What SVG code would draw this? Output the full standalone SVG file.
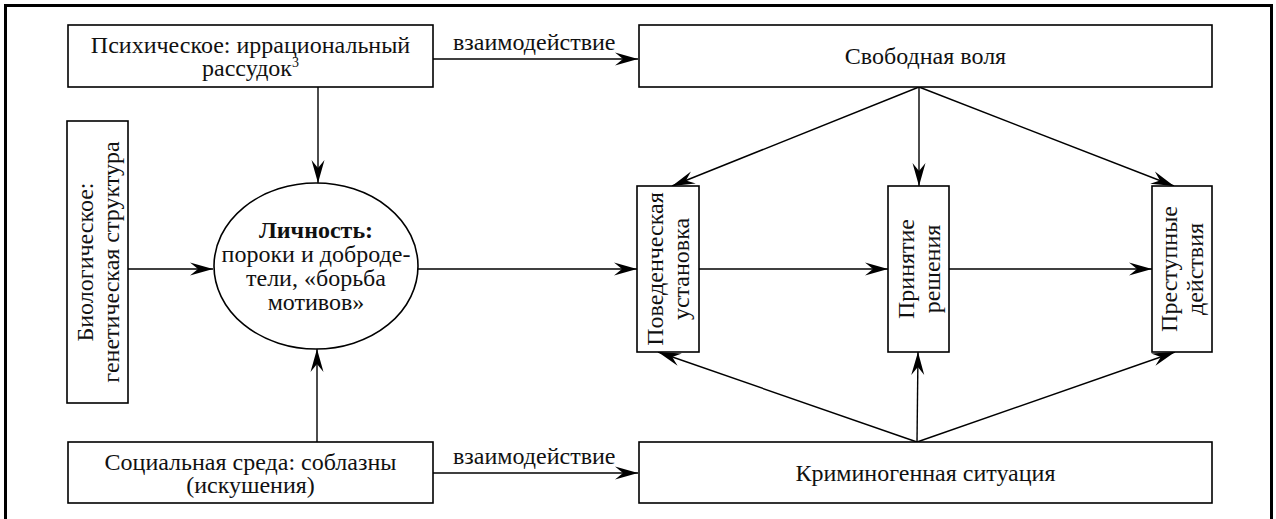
<svg xmlns="http://www.w3.org/2000/svg" width="1276" height="519" viewBox="0 0 1276 519">
  <style>
    .box { fill: #fff; stroke: #000; stroke-width: 1.6; }
    .frame { fill: none; stroke: #000; stroke-width: 3; }
    .t { font-family: "Liberation Serif", "Times New Roman", serif; font-size: 24px; fill: #111; }
    .c { text-anchor: middle; }
    .b { font-weight: bold; }
    .conn line { stroke: #000; stroke-width: 1.4; }
    .arr { marker-end: url(#ah); }
  </style>
  <defs>
    <marker id="ah" markerUnits="userSpaceOnUse" markerWidth="26" markerHeight="16" viewBox="-24 -8 26 16" refX="0" refY="0" orient="auto">
      <path d="M0,0 L-23,-6.5 L-15,0 L-23,6.5 Z" fill="#000"/>
    </marker>
  </defs>

  <rect class="frame" x="5.5" y="5.5" width="1266" height="530"/>

  <!-- connectors -->
  <g id="connectors" class="conn">
    <line class="arr" x1="433" y1="59" x2="638" y2="59"/>
    <line class="arr" x1="318" y1="87" x2="318" y2="183"/>
    <line class="arr" x1="128" y1="269" x2="213" y2="269"/>
    <line class="arr" x1="317" y1="442" x2="317" y2="349"/>
    <line class="arr" x1="418" y1="269" x2="637" y2="269"/>
    <line class="arr" x1="699" y1="269" x2="888" y2="269"/>
    <line class="arr" x1="949" y1="269" x2="1152" y2="269"/>
    <line class="arr" x1="919" y1="87" x2="672" y2="186"/>
    <line class="arr" x1="919" y1="87" x2="919" y2="186"/>
    <line class="arr" x1="919" y1="87" x2="1174" y2="186"/>
    <line class="arr" x1="917" y1="442" x2="658" y2="352"/>
    <line class="arr" x1="917" y1="442" x2="918" y2="352"/>
    <line class="arr" x1="917" y1="442" x2="1175" y2="352"/>
    <line class="arr" x1="433" y1="473" x2="638" y2="473"/>
    <text class="t" x="453" y="50">взаимодействие</text>
    <text class="t" x="453" y="464">взаимодействие</text>
  </g>

  <g id="psychic">
    <rect class="box" x="68" y="25" width="365" height="62"/>
    <text class="t c" x="250.5" y="53">Психическое: иррациональный</text>
    <text class="t c" x="250.5" y="76">рассудок<tspan font-size="14" dy="-9">3</tspan></text>
  </g>

  <g id="free-will">
    <rect class="box" x="639" y="25" width="573" height="62"/>
    <text class="t c" x="925.5" y="64">Свободная воля</text>
  </g>

  <g id="biological">
    <rect class="box" x="67" y="121" width="61" height="282"/>
    <g transform="translate(97.5 262) rotate(-90)">
      <text class="t c" x="0" y="-5">Биологическое:</text>
      <text class="t c" x="0" y="21">генетическая структура</text>
    </g>
  </g>

  <g id="personality">
    <ellipse class="box" cx="316" cy="266" rx="102" ry="83"/>
    <text class="t c b" x="316" y="238">Личность:</text>
    <text class="t c" x="316" y="262">пороки и доброде-</text>
    <text class="t c" x="316" y="286">тели, «борьба</text>
    <text class="t c" x="316" y="310">мотивов»</text>
  </g>

  <g id="attitude">
    <rect class="box" x="637" y="186" width="62" height="166"/>
    <g transform="translate(668 269) rotate(-90)">
      <text class="t c" x="0" y="-5">Поведенческая</text>
      <text class="t c" x="0" y="21">установка</text>
    </g>
  </g>

  <g id="decision">
    <rect class="box" x="888" y="186" width="61" height="166"/>
    <g transform="translate(918.5 269) rotate(-90)">
      <text class="t c" x="0" y="-5">Принятие</text>
      <text class="t c" x="0" y="21">решения</text>
    </g>
  </g>

  <g id="criminal-acts">
    <rect class="box" x="1152" y="186" width="60" height="166"/>
    <g transform="translate(1182 269) rotate(-90)">
      <text class="t c" x="0" y="-5">Преступные</text>
      <text class="t c" x="0" y="21">действия</text>
    </g>
  </g>

  <g id="social">
    <rect class="box" x="68" y="442" width="365" height="61"/>
    <text class="t c" x="250.5" y="470">Социальная среда: соблазны</text>
    <text class="t c" x="250.5" y="493">(искушения)</text>
  </g>

  <g id="criminogenic">
    <rect class="box" x="639" y="442" width="573" height="61"/>
    <text class="t c" x="925.5" y="481">Криминогенная ситуация</text>
  </g>
</svg>
